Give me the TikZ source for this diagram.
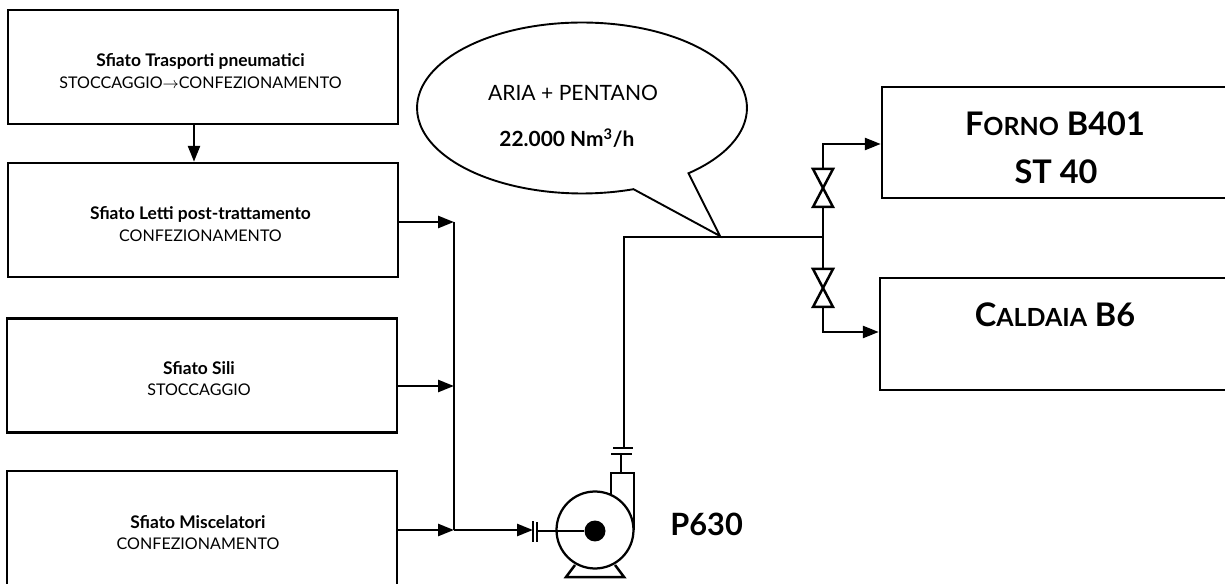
\documentclass[tikz,border=0pt]{standalone}
\usepackage{fontspec}
\setmainfont{Lato}
\usetikzlibrary{arrows.meta,shapes.callouts}
\newcommand{\bigname}[2]{{\fontsize{18.5}{20}\selectfont #1}{\fontsize{14.2}{20}\selectfont #2}}
\newcommand{\boxhead}[1]{{\bfseries\fontsize{9.9}{12.3}\selectfont #1}}
\newcommand{\valve}[2]{%
  \coordinate (#1in) at (823,{#2+19});
  \coordinate (#1out) at (823,{#2-19});
  \draw[pipe] (813,{#2-19}) -- (833,{#2-19}) -- (813,{#2+19}) -- (833,{#2+19}) -- cycle;}

\begin{document}
\begin{tikzpicture}[x=0.02cm,y=-0.02cm,
  block/.style={draw,line width=0.5mm,minimum width=7.8cm,minimum height=2.28cm,inner sep=0pt},
  boxtext/.style={align=center,inner sep=0pt,font=\fontsize{9.15}{12.3}\selectfont},
  plant/.style={draw,line width=0.5mm,minimum width=7.2cm,inner sep=0pt},
  title/.style={inner sep=0pt,font=\bfseries\fontsize{18.5}{20}\selectfont},
  pipe/.style={line width=0.5mm},
  flow/.style={pipe,-{Triangle[length=3.2mm,width=2.4mm]}}]
\path[use as bounding box,clip] (0,0) rectangle (1225,584);
\node[block] (trasporti) at (203,67) {};
\node[block] (letti) at (203,220) {};
\node[block] (sili) at (202,375.5) {};
\node[block] (miscelatori) at (202,528) {};
\node[boxtext] (trasportitext) at (200.5,71)
  {\boxhead{Sfiato Trasporti pneumatici}\\STOCCAGGIO$\rightarrow$CONFEZIONAMENTO};
\node[boxtext] (lettitext) at (200.5,224)
  {\boxhead{Sfiato Letti post-trattamento}\\CONFEZIONAMENTO};
\node[boxtext] (silitext) at (199,378.5)
  {\boxhead{Sfiato Sili}\\STOCCAGGIO};
\node[boxtext] (miscelatoritext) at (198,532.5)
  {\boxhead{Sfiato Miscelatori}\\CONFEZIONAMENTO};
\node[plant,minimum height=2.22cm] (forno) at (1062,142.5) {};
\node[plant,minimum height=2.24cm] (caldaia) at (1060,334) {};
\node[title] (fornoname) at (1055,124) {\bigname{F}{ORNO} B401};
\node[title] (fornost) at (1056,172) {ST 40};
\node[title] (caldaianame) at (1055,315) {\bigname{C}{ALDAIA} B6};
\node[title,anchor=west,font=\bfseries\fontsize{17.5}{20}\selectfont] (pumpname) at (670,524) {P630};
% pompa
\node[circle,draw,line width=0.45mm,minimum size=1.54cm,inner sep=0pt] (pump) at (595,530) {};
\node[circle,fill=black,minimum size=0.42cm,inner sep=0pt] (hub) at (595,531) {};
\draw[pipe] (611,494) -- (611,473) -- (634,473) -- (634,530);
\draw[pipe] (575,565) -- (566,577) -- (624,577) -- (615,565);
% flange
\coordinate (inflange) at (533,531);
\draw[pipe] (533,521) -- (533,542);
\draw[pipe] (537,522) -- (537,542);
\draw[pipe] (611,454) -- (632,454);
\draw[pipe] (613,448) -- (633,448);
\draw[pipe] (537,531) -- (hub);
\draw[pipe] (621,473) -- (621,454);
% sfiati
\coordinate (topjoin) at (454,222);
\coordinate (silijoin) at (454,386);
\coordinate (lowjoin) at (454,530);
\draw[flow] (trasporti.south -| 194,0) -- (letti.north -| 194,0);
\draw[flow] (letti.east |- topjoin) -- (topjoin);
\draw[flow] (sili.east |- silijoin) -- (silijoin);
\draw[flow] (miscelatori.east |- lowjoin) -- (lowjoin);
\draw[pipe] (topjoin) -- (lowjoin);
\draw[flow] (lowjoin) -- (lowjoin -| inflange);
% mandata
\coordinate (riser) at (624,237);
\coordinate (split) at (823,237);
\coordinate (fornoturn) at (823,144);
\coordinate (caldaiaturn) at (823,332);
\draw[pipe] (624,448) -- (riser) -- (split);
\valve{vf}{188}
\valve{vc}{288}
\draw[pipe] (split) -- (vfin);
\draw[pipe] (split) -- (vcout);
\draw[flow] (vfout) -- (fornoturn) -- (forno.west |- fornoturn);
\draw[flow] (vcin) -- (caldaiaturn) -- (caldaia.west |- caldaiaturn);
% nuvoletta
\node[ellipse callout,draw,line width=0.38mm,minimum width=6.6cm,minimum height=3.42cm,
  inner sep=0pt,callout absolute pointer={(720,236)},callout pointer arc=22] (bubble) at (582,108) {};
\node[inner sep=0pt,font=\fontsize{12}{14}\selectfont] (ariatext) at (573,93) {ARIA + PENTANO};
\node[inner sep=0pt,font=\bfseries\fontsize{11.9}{14}\selectfont] (portata) at (567,138) {22.000 Nm$^{\mathbf{3}}$/h};
\end{tikzpicture}
\end{document}
